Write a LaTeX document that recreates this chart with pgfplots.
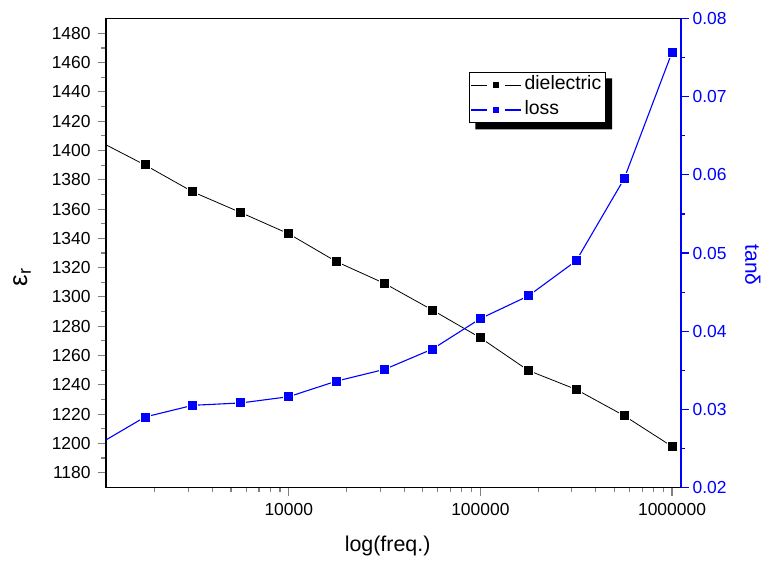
\documentclass[border=0pt]{standalone}
\usepackage{pgfplots}
\usepackage{pgfplotstable}
\pgfplotsset{compat=1.18}
\usepackage{fontspec}
\setmainfont{Liberation Sans}
\usetikzlibrary{calc}

\definecolor{lossblue}{RGB}{0,0,255}

% relative permittivity vs. frequency
\pgfplotstableread{
f        eps
1000     1407
1778.28  1390.1
3162.28  1371.7
5623.41  1357.6
10000    1343.1
17782.8  1324.0
31622.8  1309.2
56234.1  1291.0
100000   1272.1
177828   1249.8
316228   1236.8
562341   1218.9
1000000  1197.9
}\dielectric

% loss tangent vs. frequency
\pgfplotstableread{
f        tand
1000     0.0254
1778.28  0.0290
3162.28  0.0305
5623.41  0.0308
10000    0.0316
17782.8  0.0336
31622.8  0.0351
56234.1  0.0377
100000   0.0416
177828   0.0445
316228   0.0490
562341   0.0595
1000000  0.0757
}\loss

\tikzset{
  epsline/.style={black, line width=0.8bp, mark=square*, mark size=5bp,
    mark options={solid, fill=black, draw=white, line width=1bp}},
  lossline/.style={lossblue, line width=1.1bp, mark=square*, mark size=5bp,
    mark options={solid, fill=lossblue, draw=white, line width=1bp}},
}

\pgfplotsset{
  legend image code/.code={
    \draw[#1, mark=none] (0bp,0bp) -- (16bp,0bp);
    \draw[#1, mark=none] (34bp,0bp) -- (50bp,0bp);
    \draw[#1, only marks, mark size=3.5bp] plot coordinates {(25bp,0bp)};
  },
}

\begin{document}
\begin{tikzpicture}
\useasboundingbox (-106bp,-73.7bp) rectangle (656bp,487.3bp);

\begin{axis}[
  scale only axis,
  width=574.7bp, height=468.6bp,
  xmode=log, xmin=1113, xmax=1.11e6,
  tick align=outside,
  major tick length=8.5bp, minor tick length=5bp,
  tick style={line width=1.1bp},
  ticklabel style={font=\fontsize{17.5}{20}\selectfont},
  yticklabel style={xshift=-3.5bp},
  xticklabel style={yshift=-4bp},
  /pgf/number format/assume math mode=true,
  /pgf/number format/1000 sep={},
  axis line style={line width=1.6bp},
  ymin=1170, ymax=1490,
  ytick={1180,1200,...,1480},
  minor ytick={1190,1210,...,1470},
  xtick={10000,100000,1000000},
  xticklabels={10000,100000,1000000},
  minor xtick={2000,3000,4000,5000,6000,7000,8000,9000,
    20000,30000,40000,50000,60000,70000,80000,90000,
    200000,300000,400000,500000,600000,700000,800000,900000},
  xtick pos=left, ytick pos=left,
  xlabel={log(freq.)},
  xlabel style={at={(axis description cs:0.49,-0.1253)}, anchor=center,
    font=\fontsize{21.5}{25}\selectfont},
  ylabel={ε\textsubscript{r}},
  ylabel style={at={(axis description cs:-0.146,0.448)}, anchor=center,
    font=\fontsize{26}{30}\selectfont},
]
\addplot[epsline] table[x=f, y=eps] {\dielectric};
\end{axis}

\begin{axis}[
  scale only axis,
  width=574.7bp, height=468.6bp,
  xmode=log, xmin=1113, xmax=1.11e6,
  axis x line=none,
  axis y line*=right,
  tick align=outside,
  major tick length=8.5bp, minor tick length=4.5bp,
  ticklabel style={font=\fontsize{17.5}{20}\selectfont},
  /pgf/number format/assume math mode=true,
  scaled y ticks=false,
  y axis line style={lossblue, line width=1.6bp},
  y tick style={lossblue, line width=1.1bp},
  ymin=0.02, ymax=0.08,
  ytick={0.02,0.03,0.04,0.05,0.06,0.07,0.08},
  minor ytick={0.025,0.035,0.045,0.055,0.065,0.075},
  yticklabel={\pgfmathprintnumber[fixed,fixed zerofill,precision=2]{\tick}},
  yticklabel style={text=lossblue},
  ylabel={tanδ},
  ylabel style={at={(axis description cs:1.1253,0.474)}, anchor=center,
    rotate=180, text=lossblue, font=\fontsize{21}{25}\selectfont},
  legend style={
    name=leg,
    at={(axis description cs:0.6316,0.8863)}, anchor=north west,
    draw=black, line width=1bp, fill=white,
    inner xsep=1bp, inner ysep=2bp, row sep=4bp,
    font=\fontsize{19.5}{22}\selectfont,
    nodes={inner xsep=3bp, inner ysep=1bp, text height=14.5bp, text depth=4.5bp},
    cells={anchor=west},
  },
]
\addlegendimage{epsline}
\addlegendentry{dielectric}
\addplot[lossline] table[x=f, y=tand] {\loss};
\addlegendentry{loss}
\end{axis}

% solid drop shadow along the lower and right edges of the legend box
\fill[black]
  ($(leg.south west)+(6.5bp,0)$) -- ++(0,-6.5bp)
  -- ($(leg.south east)+(6.5bp,-6.5bp)$)
  -- ($(leg.north east)+(6.5bp,-6.5bp)$)
  -- ($(leg.north east)+(0,-6.5bp)$)
  -- (leg.south east) -- cycle;
\end{tikzpicture}
\end{document}
